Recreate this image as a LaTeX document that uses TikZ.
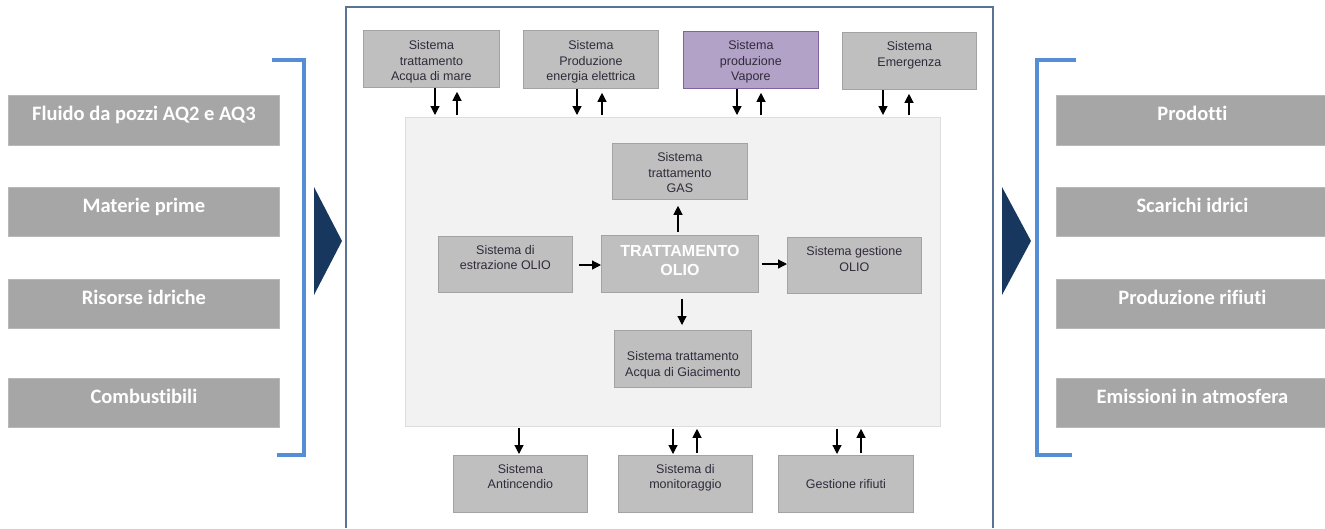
\documentclass[tikz,border=0pt]{standalone}
\usepackage{fontspec}
\setmainfont{Liberation Sans}
\newfontfamily\calibri[Ligatures={NoCommon}]{Carlito}
\usetikzlibrary{arrows.meta}

\definecolor{boxfill}{HTML}{BFBFBF}
\definecolor{boxedge}{HTML}{A3A3A3}
\definecolor{vapfill}{HTML}{B3A2C7}
\definecolor{vapedge}{HTML}{8064A2}
\definecolor{panelfill}{HTML}{F2F2F2}
\definecolor{paneledge}{HTML}{DDDDDD}
\definecolor{iofill}{HTML}{A6A6A6}
\definecolor{ioedge}{HTML}{B8B8B8}
\definecolor{bracket}{HTML}{558ED5}
\definecolor{navy}{HTML}{17375E}
\definecolor{framecol}{HTML}{5A7394}
\definecolor{txtcol}{HTML}{302A3A}

\tikzset{
  sysbox/.style={draw=boxedge, fill=boxfill, line width=0.8pt, inner sep=0pt, anchor=north west},
  vapbox/.style={sysbox, draw=vapedge, fill=vapfill},
  iobox/.style={draw=ioedge, fill=iofill, line width=0.8pt, inner sep=0pt, anchor=north west},
  systext/.style={font=\fontsize{12.5}{15.3}\selectfont, align=center, inner sep=0pt, text=txtcol, anchor=north},
  maintext/.style={font=\fontsize{16}{19}\selectfont\bfseries, align=center, inner sep=0pt, text=white, anchor=north},
  iotext/.style={font=\calibri\fontsize{20.5}{24}\selectfont\bfseries, inner sep=0pt, text=white, anchor=north},
  arr/.style={line width=1.2pt, -{Triangle[length=9pt,width=9pt]}},
  brk/.style={draw=bracket, line width=3.5pt, line join=miter},
}

\begin{document}
\begin{tikzpicture}[x=1pt, y=-1pt]
\path[use as bounding box] (0,0) rectangle (1325,528);

% outer frame of the plant
\draw[framecol, line width=1.2pt] (346,528) -- (346,7) -- (993,7) -- (993,528);

% inputs
\node[iobox, minimum width=271, minimum height=50] (in1) at (8,95) {};
\node[iobox, minimum width=271, minimum height=49] (in2) at (8,187) {};
\node[iobox, minimum width=271, minimum height=49] (in3) at (8,279) {};
\node[iobox, minimum width=271, minimum height=49] (in4) at (8,378) {};
\node[iotext] (in1t) at ([yshift=-10.5pt]in1.north) {Fluido da pozzi AQ2 e AQ3};
\node[iotext] (in2t) at ([yshift=-10.5pt]in2.north) {Materie prime};
\node[iotext] (in3t) at ([yshift=-10.5pt]in3.north) {Risorse idriche};
\node[iotext] (in4t) at ([yshift=-10.5pt]in4.north) {Combustibili};

% outputs
\node[iobox, minimum width=272, minimum height=50] (out1) at (1056,95) {};
\node[iobox, minimum width=272, minimum height=49] (out2) at (1056,187) {};
\node[iobox, minimum width=272, minimum height=49] (out3) at (1056,279) {};
\node[iobox, minimum width=272, minimum height=49] (out4) at (1056,378) {};
\node[iotext] (out1t) at ([yshift=-10.5pt]out1.north) {Prodotti};
\node[iotext] (out2t) at ([yshift=-10.5pt]out2.north) {Scarichi idrici};
\node[iotext] (out3t) at ([yshift=-10.5pt]out3.north) {Produzione rifiuti};
\node[iotext] (out4t) at ([yshift=-10.5pt]out4.north) {Emissioni in atmosfera};

% brackets and flow triangles
\draw[brk] (272,60) -- (304,60) -- (304,455) -- (277,455);
\draw[brk] (1076,60) -- (1037,60) -- (1037,455) -- (1072,455);
\fill[navy] (314,187) -- (342,241) -- (314,295) -- cycle;
\fill[navy] (1002,187) -- (1031,241) -- (1002,295) -- cycle;

% central process area
\node[draw=paneledge, fill=panelfill, line width=0.8pt, inner sep=0pt, anchor=north west,
      minimum width=535, minimum height=309] (panel) at (405,117) {};

% auxiliary systems, top row
\node[sysbox, minimum width=136, minimum height=57] (mare) at (363,30) {};
\node[sysbox, minimum width=135, minimum height=58] (ener) at (523,30) {};
\node[vapbox, minimum width=135, minimum height=57] (vap) at (683,31) {};
\node[sysbox, minimum width=134, minimum height=57] (emer) at (842,32) {};
\node[systext] (maret) at ([yshift=-10.5pt]mare.north) {Sistema\\trattamento\\Acqua di mare};
\node[systext] (enert) at ([yshift=-10.5pt]ener.north) {Sistema\\Produzione\\energia elettrica};
\node[systext] (vapt) at ([yshift=-9.7pt]vap.north) {Sistema\\produzione\\Vapore};
\node[systext] (emert) at ([yshift=-9.7pt]emer.north) {Sistema\\Emergenza};

% process blocks inside the area
\node[sysbox, minimum width=135, minimum height=56] (gas) at (612,143) {};
\node[sysbox, minimum width=134, minimum height=56] (estr) at (438,236) {};
\node[sysbox, minimum width=157, minimum height=57] (olio) at (601,235) {};
\node[sysbox, minimum width=134, minimum height=56] (gest) at (787,237) {};
\node[sysbox, minimum width=137, minimum height=57] (giac) at (614,330) {};
\node[systext] (gast) at ([yshift=-9.7pt]gas.north) {Sistema\\trattamento\\GAS};
\node[systext] (estrt) at ([yshift=-9pt]estr.north) {Sistema di\\estrazione OLIO};
\node[maintext] (oliot) at ([yshift=-10pt]olio.north) {TRATTAMENTO\\OLIO};
\node[systext] (gestt) at ([yshift=-9.7pt]gest.north) {Sistema gestione\\OLIO};
\node[systext] (giact) at ([yshift=-21.7pt]giac.north) {Sistema trattamento\\Acqua di Giacimento};

% auxiliary systems, bottom row
\node[sysbox, minimum width=134, minimum height=57] (anti) at (453,455) {};
\node[sysbox, minimum width=134, minimum height=57] (moni) at (618,455) {};
\node[sysbox, minimum width=135, minimum height=57] (rifi) at (778,455) {};
\node[systext] (antit) at ([yshift=-9pt]anti.north) {Sistema\\Antincendio};
\node[systext] (monit) at ([yshift=-9pt]moni.north) {Sistema di\\monitoraggio};
\node[systext] (rifit) at ([yshift=-24pt]rifi.north) {Gestione rifiuti};

% exchanges between top systems and the process area
\draw[arr, shorten >=2pt] (435,0 |- mare.south) -- (435,0 |- panel.north);
\draw[arr, shorten <=2pt, shorten >=4pt] (457,0 |- panel.north) -- (457,0 |- mare.south);
\draw[arr, shorten >=2pt] (577,0 |- ener.south) -- (577,0 |- panel.north);
\draw[arr, shorten <=2pt, shorten >=4pt] (602,0 |- panel.north) -- (602,0 |- ener.south);
\draw[arr, shorten >=2pt] (737,0 |- vap.south) -- (737,0 |- panel.north);
\draw[arr, shorten <=2pt, shorten >=4pt] (761,0 |- panel.north) -- (761,0 |- vap.south);
\draw[arr, shorten >=2pt] (883,0 |- emer.south) -- (883,0 |- panel.north);
\draw[arr, shorten <=2pt, shorten >=4pt] (909,0 |- panel.north) -- (909,0 |- emer.south);

% flows inside the process area
\draw[arr, shorten <=3pt, shorten >=6pt] (678,0 |- olio.north) -- (678,0 |- gas.south);
\draw[arr, shorten <=6pt] (estr.east |- 0,265) -- (olio.west |- 0,265);
\draw[arr, shorten <=3pt] (olio.east |- 0,264) -- (gest.west |- 0,264);
\draw[arr, shorten <=6pt, shorten >=5pt] (682,0 |- olio.south) -- (682,0 |- giac.north);

% exchanges between the process area and bottom systems
\draw[arr, shorten <=1pt, shorten >=1pt] (519,0 |- panel.south) -- (519,0 |- anti.north);
\draw[arr, shorten <=2pt, shorten >=1pt] (673,0 |- panel.south) -- (673,0 |- moni.north);
\draw[arr, shorten <=2pt, shorten >=2pt] (697,0 |- moni.north) -- (697,0 |- panel.south);
\draw[arr, shorten <=2pt, shorten >=1pt] (837,0 |- panel.south) -- (837,0 |- rifi.north);
\draw[arr, shorten <=2pt, shorten >=2pt] (861,0 |- rifi.north) -- (861,0 |- panel.south);
\end{tikzpicture}
\end{document}
